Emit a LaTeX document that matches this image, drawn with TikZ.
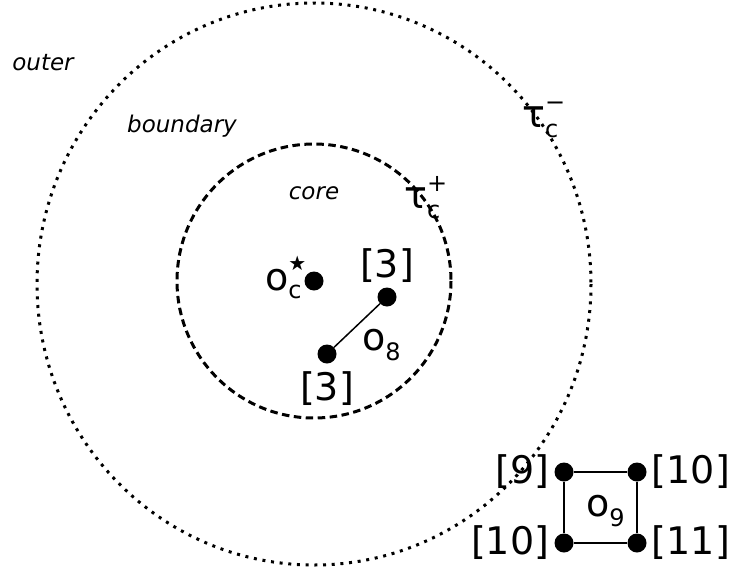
\documentclass[tikz,border=0pt]{standalone}
\usepackage{fontspec}
\setmainfont{DejaVu Sans}[ItalicFont={DejaVu Sans Oblique}]
\usetikzlibrary{positioning}

\newcommand{\subfnt}{\fontsize{24}{24}\selectfont}
\newcommand{\supsub}[3]{#1\rlap{\raisebox{17pt}{\subfnt #2}}\raisebox{-10pt}{\subfnt #3}}
\newcommand{\starsym}{\rlap{\raisebox{20pt}{\fontsize{20}{20}\selectfont ★}}}

\begin{document}
\begin{tikzpicture}[
            x=1pt, y=-1pt,
            vertex/.style={
                circle,
                fill=black,
                inner sep=0pt,
                minimum size=19pt
            },
            edge/.style={line width=1.5pt},
            big/.style={font=\fontsize{38}{42}\selectfont, inner sep=0pt},
            region/.style={font=\itshape\fontsize{23}{27}\selectfont, inner sep=0pt}
        ]

        \useasboundingbox (0,0) rectangle (731,568);

        % Regiones
        \coordinate (c) at (314,281);
        \draw[line width=3pt, dash pattern=on 3pt off 5.7pt] (314,284) ellipse (277 and 281);
        \draw[line width=3pt, dash pattern=on 7.5pt off 4.5pt] (c) circle (137);

        \node[region] (outer) at (43,63) {outer};
        \node[region] (boundary) at (182,126) {boundary};
        \node[region] (core) at (314,193) {core};

        \node[big, anchor=base west] (tauin) at (404,208) {\supsub{τ}{+}{c}};
        \node[big, anchor=base west] (tauout) at (522,127) {\supsub{τ}{−}{c}};

        % Vértices
        \node[vertex] (oc) at (c) {};
        \node[vertex] (a3) at (387,297) {};
        \node[vertex] (b3) at (327,354) {};
        \node[vertex] (p9)  at (564,472) {};
        \node[vertex] (p10) at (637,472) {};
        \node[vertex] (q10) at (564,543) {};
        \node[vertex] (p11) at (637,543) {};

        % Aristas
        \draw[edge] (a3) -- (b3);
        \draw[edge] (p9) -- (p10);
        \draw[edge] (p10) -- (p11);
        \draw[edge] (p11) -- (q10);
        \draw[edge] (q10) -- (p9);

        % Etiquetas
        \node[big, anchor=base west] (ocl) at (265,290) {o\starsym\raisebox{-8pt}{\subfnt c}};
        \node[big, above=5pt of a3] (la3) {[3]};
        \node[big, below=8pt of b3] (lb3) {[3]};
        \node[big, anchor=base west] (o8) at (362,350) {\supsub{o}{}{8}};

        \node[big, left=5pt of p9] (l9) {[9]};
        \node[big, right=5pt of p10] (l10) {[10]};
        \node[big, left=5pt of q10] (m10) {[10]};
        \node[big, right=5pt of p11] (l11) {[11]};
        \node[big, anchor=base west] (o9) at (586,516) {\supsub{o}{}{9}};

        \end{tikzpicture}
\end{document}
